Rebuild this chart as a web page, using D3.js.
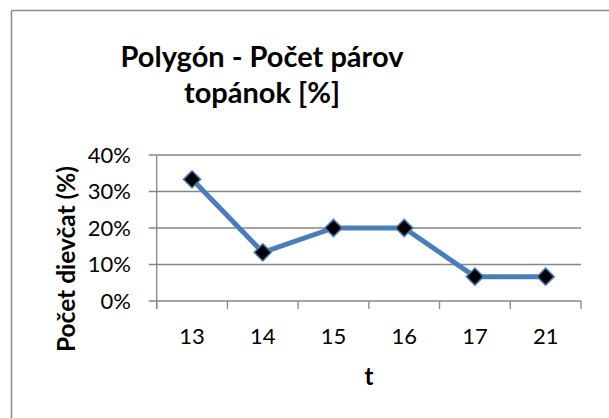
<!DOCTYPE html>
<html>
<head>
<meta charset="utf-8">
<script src="https://cdn.jsdelivr.net/npm/d3@7"></script>
<style>
  body { margin: 0; background: #fff; }
  svg { display: block; }
</style>
</head>
<body>
<svg id="chart" width="609" height="418"></svg>
<script>
// categories (t) and share of girls
var categories = ["13", "14", "15", "16", "17", "21"];
var values = [0.3333, 0.1333, 0.20, 0.20, 0.0667, 0.0667];
var yTicks = [0, 0.1, 0.2, 0.3, 0.4];
var titleLines = ["Polygón - Počet párov", "topánok [%]"];
var yTitle = "Počet dievčat (%)";
var xTitle = "t";

var cfg = {
  left : 156.7,
  right : 581,
  top : 155,
  bottom : 301,
  font : "Lato, 'Open Sans', sans-serif",
  grid : "#868686",
  line : "#4A7EBB"
};

var svg = d3.select("#chart");

// frame (only top and left edges are visible in the picture)
svg.append("line").attr("x1", 11.5).attr("x2", 609).attr("y1", 10.5).attr("y2", 10.5)
  .attr("stroke", "#8c8c8c").attr("stroke-width", 1.5);
svg.append("line").attr("x1", 11.5).attr("x2", 11.5).attr("y1", 10.5).attr("y2", 418)
  .attr("stroke", "#8c8c8c").attr("stroke-width", 1.5);

var x = d3.scaleBand().domain(categories).range([cfg.left, cfg.right]);
var y = d3.scaleLinear().domain([0, 0.4]).range([cfg.bottom, cfg.top]);

// horizontal gridlines
svg.append("g").selectAll("line")
  .data(yTicks)
  .enter()
  .append("line")
  .attr("x1", cfg.left - 8)
  .attr("x2", cfg.right)
  .attr("y1", function(d){ return y(d); })
  .attr("y2", function(d){ return y(d); })
  .attr("stroke", cfg.grid)
  .attr("stroke-width", 1.3);

// y axis line
svg.append("line")
  .attr("x1", cfg.left).attr("x2", cfg.left)
  .attr("y1", cfg.top).attr("y2", cfg.bottom + 8)
  .attr("stroke", cfg.grid).attr("stroke-width", 1.3);

// x axis category ticks
var bounds = categories.map(function(c){ return x(c); }).concat([cfg.right]);
svg.append("g").selectAll("line")
  .data(bounds)
  .enter()
  .append("line")
  .attr("x1", function(d){ return d; })
  .attr("x2", function(d){ return d; })
  .attr("y1", cfg.bottom)
  .attr("y2", cfg.bottom + 8)
  .attr("stroke", cfg.grid)
  .attr("stroke-width", 1.3);

// y tick labels
svg.append("g").selectAll("text")
  .data(yTicks)
  .enter()
  .append("text")
  .text(d3.format(".0%"))
  .attr("x", 131)
  .attr("y", function(d){ return y(d); })
  .attr("dy", "0.36em")
  .attr("text-anchor", "end")
  .attr("font-family", cfg.font)
  .attr("font-size", 22)
  .attr("fill", "#000");

// x tick labels
svg.append("g").selectAll("text")
  .data(categories)
  .enter()
  .append("text")
  .text(function(d){ return d; })
  .attr("x", function(d){ return x(d) + x.bandwidth() / 2; })
  .attr("y", 344)
  .attr("text-anchor", "middle")
  .attr("font-family", cfg.font)
  .attr("font-size", 22)
  .attr("fill", "#000");

// title
svg.append("g").selectAll("text")
  .data(titleLines)
  .enter()
  .append("text")
  .text(function(d){ return d; })
  .attr("x", 262)
  .attr("y", function(d, i){ return 67 + i * 36; })
  .attr("text-anchor", "middle")
  .attr("font-family", cfg.font)
  .attr("font-weight", "bold")
  .attr("font-size", 29)
  .attr("fill", "#000");

// axis titles
svg.append("text")
  .text(yTitle)
  .attr("transform", "translate(75,259) rotate(-90)")
  .attr("text-anchor", "middle")
  .attr("font-family", cfg.font)
  .attr("font-weight", "bold")
  .attr("font-size", 24)
  .attr("textLength", 186)
  .attr("lengthAdjust", "spacingAndGlyphs")
  .attr("fill", "#000");

svg.append("text")
  .text(xTitle)
  .attr("x", (cfg.left + cfg.right) / 2)
  .attr("y", 385)
  .attr("text-anchor", "middle")
  .attr("font-family", cfg.font)
  .attr("font-weight", "bold")
  .attr("font-size", 24)
  .attr("fill", "#000");

// series line
var points = categories.map(function(c, i){ return {cat : c, value : values[i]}; });
var line = d3.line()
  .x(function(d){ return x(d.cat) + x.bandwidth() / 2; })
  .y(function(d){ return y(d.value); });

svg.append("path")
  .datum(points)
  .attr("d", line)
  .attr("fill", "none")
  .attr("stroke", cfg.line)
  .attr("stroke-width", 5)
  .attr("stroke-linejoin", "round");

// diamond markers
var diamond = d3.symbol().type(d3.symbolDiamond2).size(190);
svg.append("g").selectAll("path")
  .data(points)
  .enter()
  .append("path")
  .attr("d", diamond)
  .attr("transform", function(d){
    return "translate(" + (x(d.cat) + x.bandwidth() / 2) + "," + y(d.value) + ")";
  })
  .attr("fill", "#000")
  .attr("stroke", cfg.line)
  .attr("stroke-width", 1.5);
</script>
</body>
</html>
